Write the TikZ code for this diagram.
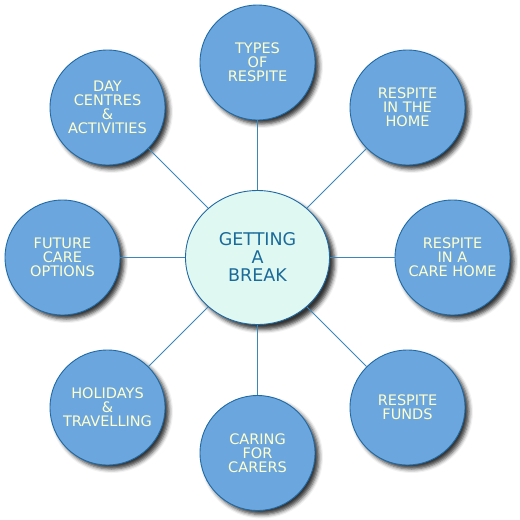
\documentclass[tikz,border=0pt]{standalone}
\usepackage{fontspec}
\setmainfont{DejaVu Sans}
\usetikzlibrary{shapes.geometric,shadows.blur}
\definecolor{cfill}{HTML}{6CA6DE}
\definecolor{cborder}{HTML}{1F6AA5}
\definecolor{ctext}{HTML}{FFFFCC}
\definecolor{mfill}{HTML}{E0F8F2}
\definecolor{mtext}{HTML}{1A6A9A}
\definecolor{lcol}{HTML}{3A85BA}
\tikzset{
  outer/.style={circle, draw=cborder, line width=0.9pt, fill=cfill, minimum size=115pt, inner sep=0pt,
    text=ctext, align=center, font=\fontsize{14.5pt}{14pt}\selectfont,
    blur shadow={shadow xshift=4pt, shadow yshift=-4pt, shadow blur radius=4pt, shadow opacity=80}},
  mainnode/.style={ellipse, draw=cborder, line width=0.9pt, fill=mfill, minimum width=144pt, minimum height=134pt, inner sep=0pt,
    text=mtext, align=center, font=\fontsize{17.5pt}{18pt}\selectfont,
    blur shadow={shadow xshift=5pt, shadow yshift=-5pt, shadow blur radius=4pt, shadow opacity=80}},
  link/.style={draw=lcol, line width=0.8pt}
}
\begin{document}
\begin{tikzpicture}[x=1pt,y=1pt]
\useasboundingbox (0,0) rectangle (520,-520);
\node[mainnode] (m) at (257.5,-257.5) {GETTING\\A\\BREAK};
\node[outer] (n) at (257.5,-62.5) {TYPES\\OF\\RESPITE};
\node[outer] (ne) at (407.5,-107.5) {RESPITE\\IN THE\\HOME};
\node[outer] (e) at (452.5,-257.5) {RESPITE\\IN A\\CARE HOME};
\node[outer] (se) at (407.5,-407.5) {RESPITE\\FUNDS};
\node[outer] (s) at (257.5,-453) {CARING\\FOR\\CARERS};
\node[outer] (sw) at (107.5,-407.5) {HOLIDAYS\\\&\\TRAVELLING};
\node[outer] (w) at (62.5,-257.5) {FUTURE\\CARE\\OPTIONS};
\node[outer] (nw) at (107.5,-107.5) {DAY\\CENTRES\\\&\\ACTIVITIES};
\foreach \t in {n,ne,e,se,s,sw,w,nw}{
  \draw[link] (m) -- (\t);
}
\end{tikzpicture}
\end{document}
